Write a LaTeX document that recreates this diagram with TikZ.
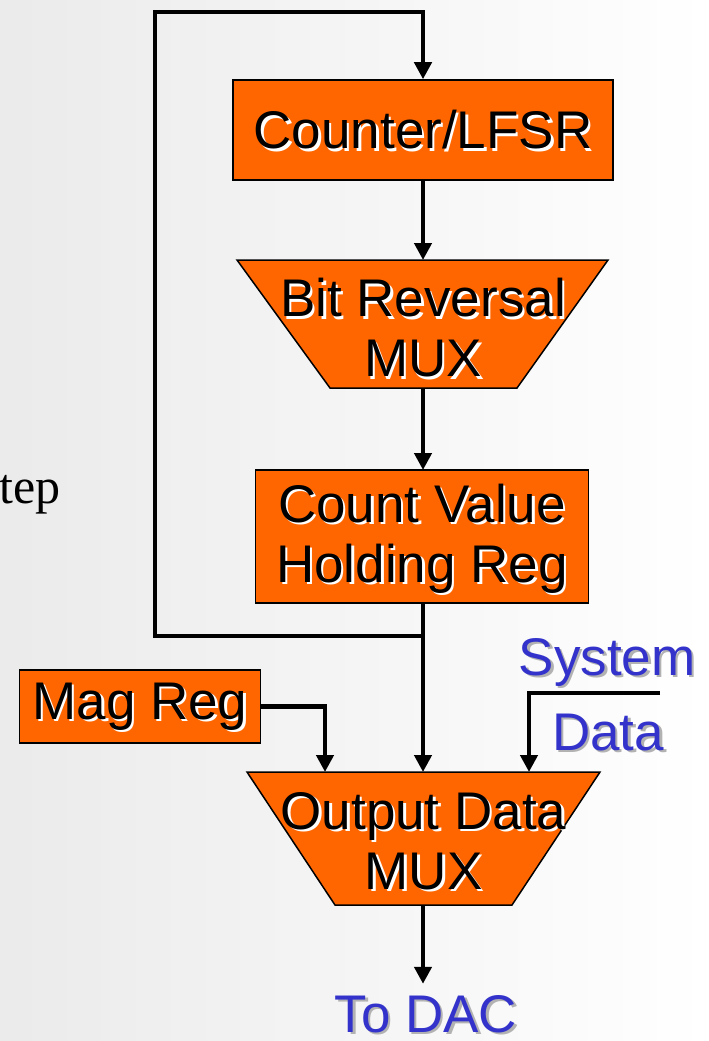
\documentclass[tikz,border=0pt]{standalone}
\usepackage{fontspec}
\setmainfont{Liberation Sans}
\newfontfamily\serifface{Liberation Serif}
\usetikzlibrary{arrows.meta,calc}
\definecolor{blockorange}{RGB}{255,102,0}
\definecolor{labelblue}{RGB}{51,51,204}
% black text with a white drop shadow, blue text with a grey one
\newcommand\shd[1]{\leavevmode\rlap{\kern2.5pt\raisebox{-2.5pt}{\color{white}#1}}#1}
\newcommand\bshd[1]{\leavevmode\rlap{\kern2.5pt\raisebox{-2.5pt}{\color{black!30}#1}}{\color{labelblue}#1}}
\begin{document}
\begin{tikzpicture}[x=1pt,y=-1pt,
  block/.style={draw=black,line width=1.5pt,fill=blockorange,inner sep=0pt},
  muxshape/.style={draw=black,line width=1.5pt,fill=blockorange,line join=miter},
  lbl/.style={font=\fontsize{53}{60}\selectfont,align=center,inner sep=0pt},
  bluelbl/.style={font=\fontsize{53}{60}\selectfont,inner sep=0pt},
  wire/.style={line width=4.5pt,-{Triangle[length=17pt,width=17pt]}}]
\useasboundingbox (0,0) rectangle (709,1041);
% soft grey backdrop
\shade[left color=black!8,right color=white] (0,0) rectangle (709,1041);

% rectangular blocks
\node[block,minimum width=380pt,minimum height=100pt] (counter) at (423,130) {};
\node[lbl] (countertxt) at (423,131) {\shd{Counter/LFSR}};

\node[block,minimum width=333pt,minimum height=133pt] (hold) at (422,536.5) {};
\node[lbl] (holdtxt) at (422,540) {\shd{Count Value}\\\shd{Holding Reg}};

\node[block,minimum width=241pt,minimum height=73pt] (magreg) at (140,706.5) {};
\node[lbl] (magtxt) at (140,708) {\shd{Mag Reg}};

% multiplexers (inverted trapezoids)
\draw[muxshape] (237,260) coordinate (brtl) -- (608,260) coordinate (brtr)
  -- (517,388) coordinate (brbr) -- (330,388) coordinate (brbl) -- cycle;
\coordinate (brtop) at (423,260);
\coordinate (brbot) at (423,388);
\node[lbl] (brtxt) at (423,329) {\shd{Bit Reversal}\\\shd{MUX}};

\draw[muxshape] (247,772) coordinate (otl) -- (600,772) coordinate (otr)
  -- (512,905) coordinate (obr) -- (335,905) coordinate (obl) -- cycle;
\coordinate (otop) at (423,772);
\coordinate (obot) at (423,905);
\node[lbl] (outtxt) at (423.5,842) {\shd{Output Data}\\\shd{MUX}};

% free labels
\node[bluelbl,anchor=base] (systxt) at (607,675) {\bshd{System}};
\node[bluelbl,anchor=base] (datatxt) at (608,750) {\bshd{Data}};
\node[bluelbl,anchor=base] (dac) at (426,1032) {\bshd{To DAC}};
\node[anchor=base west,inner sep=0pt,font=\serifface\fontsize{50}{60}\selectfont] (steplbl) at (-1,503) {tep};

% helper points on the main vertical line
\coordinate (holdin) at (423,470);
\coordinate (holdout) at (423,603);
\coordinate (jn) at (423,636);
\coordinate (loopcorner) at (155,12);
\coordinate (sysin) at (660,693);

% connectors
\draw[wire] (counter.south) -- (brtop);
\draw[wire] (brbot) -- (holdin);
\draw[wire] (holdout) -- (otop);
\draw[wire] (jn) -| (loopcorner) -| (counter.north);
\draw[wire] (magreg.east) -| ($(otop)+(-98,0)$);
\draw[wire] (sysin) -| ($(otop)+(106,0)$);
\draw[wire,shorten >=11pt] (obot) -- (obot |- dac.north);
\end{tikzpicture}
\end{document}
